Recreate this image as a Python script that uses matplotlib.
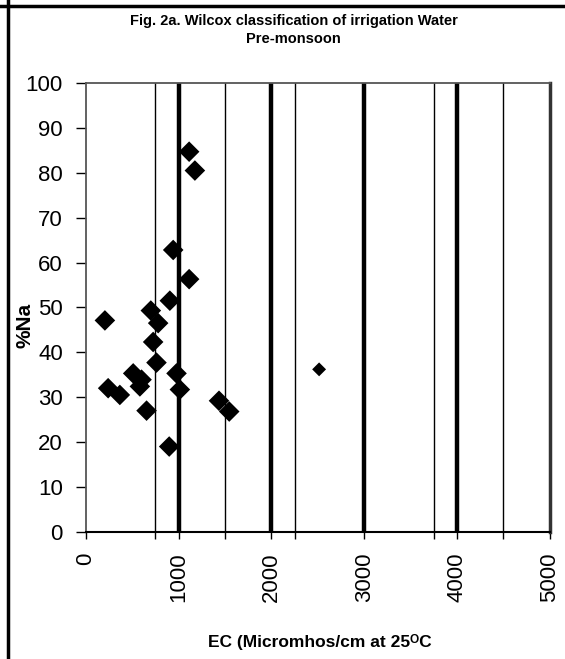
import matplotlib.pyplot as plt
from matplotlib.lines import Line2D

# EC (micromhos/cm) and %Na for each pre-monsoon sample
ec = [205, 240, 366, 510, 582, 600, 654, 700, 725, 761, 779,
      898, 905, 941, 977, 1013, 1113, 1113, 1175, 1435, 1545, 2514]
na = [47.1, 32.0, 30.5, 35.3, 32.4, 33.9, 27.0, 49.3, 42.3, 37.7, 46.5,
      19.0, 51.5, 62.8, 35.3, 31.7, 84.7, 56.3, 80.5, 29.2, 26.8, 36.2]

# class boundaries on the EC axis
thin_lines = [750, 1500, 2250, 3750, 4500]
thick_lines = [1000, 2000, 3000, 4000]
x_ticks = [0, 750, 1000, 1500, 2000, 2250, 3000, 3750, 4000, 4500, 5000]
x_labels = ['0', '', '1000', '', '2000', '', '3000', '', '4000', '', '5000']

plt.rcParams['font.family'] = ['Liberation Sans', 'DejaVu Sans']

fig = plt.figure(figsize=(5.65, 6.59), dpi=100)
ax = fig.add_axes([0.152, 0.193, 0.821, 0.681])

for x in thin_lines:
    ax.axvline(x, color='black', lw=1.0, zorder=1)
for x in thick_lines:
    ax.axvline(x, color='black', lw=3.2, zorder=1)

sizes = [110] * (len(ec) - 1) + [50]
ax.scatter(ec, na, marker='D', s=sizes, color='black', linewidths=0, zorder=3)

ax.set_xlim(0, 5000)
ax.set_ylim(0, 100)
ax.set_xticks(x_ticks)
ax.set_xticklabels(x_labels, rotation=90, fontsize=16)
ax.set_yticks(range(0, 101, 10))
ax.tick_params(axis='y', labelsize=16, length=7, width=1, direction='out', pad=9.5)
ax.tick_params(axis='x', length=5, width=1, direction='out', pad=10)

for side in ['left', 'top']:
    ax.spines[side].set_color('#555555')
    ax.spines[side].set_linewidth(1.3)
ax.spines['right'].set_color('#333333')
ax.spines['right'].set_linewidth(2.5)
ax.spines['bottom'].set_color('black')
ax.spines['bottom'].set_linewidth(1.5)

ax.set_ylabel('%Na', fontsize=15, fontweight='bold')
ax.yaxis.set_label_coords(-0.11, 0.46)
fig.text(0.566, 0.026, 'EC (Micromhos/cm at 25\u1d3cC', ha='center', va='center',
         fontsize=12.5, fontweight='bold')
fig.text(0.52, 0.955, 'Fig. 2a. Wilcox classification of irrigation Water\nPre-monsoon',
         ha='center', va='center', fontsize=10.5, fontweight='bold', linespacing=1.35)

# frame lines along the top and left of the figure
fig.add_artist(Line2D([0, 1], [0.991, 0.991], transform=fig.transFigure, color='black', lw=2.5))
fig.add_artist(Line2D([0.015, 0.015], [0, 1], transform=fig.transFigure, color='black', lw=2.5))

fig.savefig('out.png', dpi=100)
